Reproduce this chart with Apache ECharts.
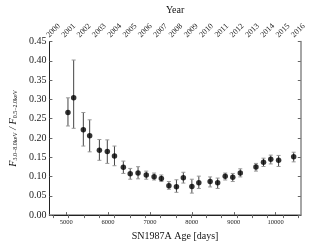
<!DOCTYPE html>
<html><head><meta charset="utf-8">
<script src="https://cdn.jsdelivr.net/npm/echarts@6/dist/echarts.min.js"></script>
<style>html,body{margin:0;padding:0;background:#fff}#c{width:314px;height:246px}</style>
</head><body><div id="c"></div>
<script>
const ageDays = [5043,5179,5410,5561,5793,5982,6153,6365,6529,6716,6912,7099,7272,7452,7632,7797,8000,8166,8436,8616,8796,8976,9156,9530,9710,9883,10070,10430];
const ratio   = [0.266,0.304,0.221,0.206,0.168,0.165,0.153,0.124,0.107,0.109,0.104,0.0995,0.095,0.076,0.0734,0.097,0.074,0.0837,0.087,0.0837,0.101,0.098,0.109,0.125,0.137,0.145,0.142,0.1515];
const errHigh = [0.304,0.402,0.266,0.247,0.196,0.195,0.179,0.140,0.121,0.1255,0.114,0.109,0.104,0.087,0.0916,0.111,0.093,0.101,0.099,0.096,0.109,0.108,0.120,0.134,0.1475,0.1555,0.1547,0.163];
const errLow  = [0.231,0.225,0.179,0.164,0.142,0.134,0.128,0.108,0.093,0.094,0.093,0.091,0.087,0.067,0.059,0.083,0.057,0.069,0.073,0.069,0.091,0.087,0.099,0.114,0.126,0.1326,0.126,0.138];
const dayTicks = [5000,6000,7000,8000,9000,10000];
const yearTicks = [2000,2001,2002,2003,2004,2005,2006,2007,2008,2009,2010,2011,2012,2013,2014,2015,2016];
const yTicks = [0,0.05,0.10,0.15,0.20,0.25,0.30,0.35,0.40,0.45];

const DAY0 = 4600, DAY1 = 10600;
const EXPLOSION_YEAR = 1987.146, YEAR_DAYS = 365.25;
const toYear = d => EXPLOSION_YEAR + d / YEAR_DAYS;

const FONT = 'Liberation Serif';
const chart = echarts.init(document.getElementById('c'), null, {renderer:'canvas'});
const points = ageDays.map((d,i)=>[d, ratio[i]]);
const bars = ageDays.map((d,i)=>[d, errLow[i], errHigh[i]]);

chart.setOption({
  animation:false,
  grid:{left:34.3, right:13.2, top:30, bottom:26},
  xAxis:[{
    type:'value', min:DAY0, max:DAY1, position:'bottom',
    name:'SN1987A Age [days]', nameLocation:'middle', nameGap:13,
    nameTextStyle:{fontFamily:FONT, fontSize:10, color:'#111'},
    axisLine:{show:true, lineStyle:{color:'#888', width:1.5}},
    axisTick:{show:true, inside:true, length:3, lineStyle:{color:'#666'}, customValues:dayTicks},
    axisLabel:{fontFamily:FONT, fontSize:6.5, color:'#222', margin:4, customValues:dayTicks, formatter:v=>String(Math.round(v))},
    splitLine:{show:false}
  },{
    type:'value', min:toYear(DAY0), max:toYear(DAY1), position:'top',
    name:'Year', nameLocation:'middle', nameGap:13,
    nameTextStyle:{fontFamily:FONT, fontSize:10, color:'#111'},
    axisLine:{show:true, lineStyle:{color:'#222', width:1}},
    axisTick:{show:true, inside:true, length:3, lineStyle:{color:'#666'}, customValues:yearTicks},
    axisLabel:{fontFamily:FONT, fontSize:8, color:'#222', rotate:45, align:'center', verticalAlign:'middle', margin:11, customValues:yearTicks, formatter:v=>String(Math.round(v))},
    splitLine:{show:false}
  }],
  yAxis:[{
    type:'value', min:0, max:0.45, interval:0.05, position:'left',
    name:'{f|F}{s|3.0−8.0keV}{f| / F}{s|0.5−2.0keV}', nameLocation:'middle', nameGap:24, nameRotate:90,
    nameTextStyle:{fontFamily:FONT, color:'#111', rich:{
      f:{fontFamily:FONT, fontSize:10, fontStyle:'italic', color:'#111', verticalAlign:'bottom', lineHeight:12},
      s:{fontFamily:FONT, fontSize:6, color:'#111', verticalAlign:'bottom', lineHeight:6}
    }},
    axisLine:{show:true, lineStyle:{color:'#222', width:1}},
    axisTick:{show:true, inside:true, length:3, lineStyle:{color:'#666'}},
    axisLabel:{fontFamily:FONT, fontSize:10, color:'#222', margin:3, formatter:v=>v.toFixed(2)},
    splitLine:{show:false}
  },{
    type:'value', min:0, max:0.45, interval:0.05, position:'right',
    axisLine:{show:true, lineStyle:{color:'#888', width:1.5}},
    axisTick:{show:true, inside:true, length:3, lineStyle:{color:'#666'}},
    axisLabel:{show:false}, splitLine:{show:false}
  }],
  series:[{
    type:'custom', xAxisIndex:0, yAxisIndex:0, data:bars,
    renderItem:(params, api)=>{
      const x = api.value(0);
      const lo = api.coord([x, api.value(1)]);
      const hi = api.coord([x, api.value(2)]);
      const c = 2;
      return {type:'group', children:[
        {type:'line', shape:{x1:lo[0], y1:lo[1], x2:hi[0], y2:hi[1]}, style:{stroke:'#444', lineWidth:1}},
        {type:'line', shape:{x1:lo[0]-c, y1:lo[1], x2:lo[0]+c, y2:lo[1]}, style:{stroke:'#999', lineWidth:1}},
        {type:'line', shape:{x1:hi[0]-c, y1:hi[1], x2:hi[0]+c, y2:hi[1]}, style:{stroke:'#999', lineWidth:1}}
      ]};
    }, z:2
  },{
    type:'scatter', xAxisIndex:0, yAxisIndex:0, data:points,
    symbol:'circle', symbolSize:5.5, itemStyle:{color:'#000'}, z:3
  }]
});
</script></body></html>
